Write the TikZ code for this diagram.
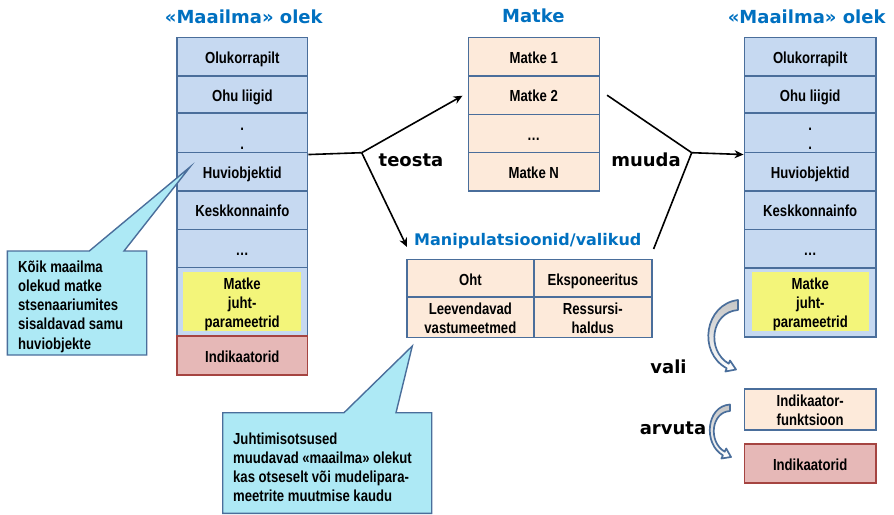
\documentclass[tikz,border=0pt]{standalone}
\usepackage{fontspec}
\setmainfont{Liberation Sans}
\newfontfamily\cellfont{Liberation Sans}[FakeStretch=0.82]
\newfontfamily\titlefont{DejaVu Sans}
\usetikzlibrary{arrows.meta,calc}
\definecolor{cellblue}{RGB}{198,217,241}
\definecolor{cellborder}{RGB}{74,110,155}
\definecolor{peach}{RGB}{253,234,218}
\definecolor{yel}{RGB}{243,245,122}
\definecolor{pinkfill}{RGB}{230,184,183}
\definecolor{pinkborder}{RGB}{165,68,65}
\definecolor{callfill}{RGB}{173,233,245}
\definecolor{titleblue}{RGB}{0,112,192}
\newcommand{\topfix}{\rule{0pt}{17.5pt}}
\newcommand{\botfix}{\rule[-4pt]{0pt}{4pt}}
\tikzset{
  cellfnt/.style={font=\cellfont\bfseries\fontsize{16}{19}\selectfont},
  cell/.style={cellfnt, draw=cellborder, line width=1.6pt, fill=cellblue, inner sep=0pt, align=center},
  mcell/.style={cell, fill=peach},
  ycell/.style={cellfnt, fill=yel, inner sep=0pt, align=center},
  icell/.style={cell, fill=pinkfill, draw=pinkborder},
  ttl/.style={font=\titlefont\bfseries\fontsize{18}{22}\selectfont, text=titleblue, inner sep=0pt},
  lbl/.style={font=\titlefont\bfseries\fontsize{18}{22}\selectfont, text=black, inner sep=0pt},
  conn/.style={line width=1.6pt, black},
  arr/.style={conn, -{Stealth[length=9pt,width=8pt]}},
  callout/.style={draw=cellborder, line width=1.4pt, fill=callfill},
  calltext/.style={font=\cellfont\bfseries\fontsize{16}{19.3}\selectfont, align=left, inner sep=0pt},
  blockarrow/.style={draw=cellborder, line width=1.7pt, top color=gray!45, bottom color=white, line join=round}
}
\begin{document}
\begin{tikzpicture}[x=1pt,y=-1pt]
\useasboundingbox (0,0) rectangle (894,514);

% titles
\node[ttl] (tl) at (243.8,17) {«Maailma» olek};
\node[ttl] (tm) at (533.3,16) {Matke};
\node[ttl] (tr) at (806.7,17) {«Maailma» olek};
\node[ttl, font=\titlefont\bfseries\fontsize{16}{20}\selectfont] (tmp) at (527.8,241) {Manipulatsioonid/valikud};

% left column
\begin{scope}[every node/.append style={minimum width=130.7pt, minimum height=38.3pt}]
\node[cell] (l1) at (242.3,56.7) {\topfix Olukorrapilt\botfix};
\node[cell] (l2) at (242.3,95.2) {\topfix Ohu liigid\botfix};
\node[cell] (l3) at (242.3,133.5) {\topfix.\\.\botfix};
\node[cell] (l4) at (242.3,171.8) {\topfix Huviobjektid\botfix};
\node[cell] (l5) at (242.3,210.2) {\topfix Keskkonnainfo\botfix};
\node[cell] (l6) at (242.3,248.5) {\topfix …\botfix};
\node[cell, minimum height=68.3pt] (l7) at (242.3,301.8) {};
\node[icell, minimum height=39pt] (l8) at (242.3,355.5) {\topfix Indikaatorid\botfix};
\end{scope}
\node[ycell, minimum width=117.7pt, minimum height=55.3pt] (ly) at (242.2,301.7) {\topfix Matke\\juht-\\parameetrid\botfix};

% right column
\begin{scope}[every node/.append style={minimum width=131.7pt, minimum height=38.3pt}]
\node[cell] (r1) at (810.2,56.7) {\topfix Olukorrapilt\botfix};
\node[cell] (r2) at (810.2,95.2) {\topfix Ohu liigid\botfix};
\node[cell] (r3) at (810.2,133.5) {\topfix.\\.\botfix};
\node[cell] (r4) at (810.2,171.8) {\topfix Huviobjektid\botfix};
\node[cell] (r5) at (810.2,210.2) {\topfix Keskkonnainfo\botfix};
\node[cell] (r6) at (810.2,248.5) {\topfix …\botfix};
\node[cell, minimum height=69pt] (r7) at (810.2,302.2) {};
\end{scope}
\node[ycell, minimum width=117.3pt, minimum height=55.3pt] (ry) at (810.3,301.7) {\topfix Matke\\juht-\\parameetrid\botfix};

% Matke column
\begin{scope}[every node/.append style={minimum width=131pt, minimum height=38.3pt}]
\node[mcell] (m1) at (533.8,56.7) {\topfix Matke 1\botfix};
\node[mcell] (m2) at (533.8,95.2) {\topfix Matke 2\botfix};
\node[mcell] (m3) at (533.8,133.5) {\topfix …\botfix};
\node[mcell] (m4) at (533.8,171.8) {\topfix Matke N\botfix};
\end{scope}

% manipulation table
\node[mcell, minimum width=127.3pt, minimum height=39pt] (t1) at (470.35,278.8) {\topfix Oht\botfix};
\node[mcell, minimum width=117.7pt, minimum height=39pt] (t2) at (592.85,278.8) {\topfix Eksponeeritus\botfix};
\node[mcell, minimum width=127.3pt, minimum height=37.7pt] (t3) at (470.35,317.15) {\topfix Leevendavad\\vastumeetmed\botfix};
\node[mcell, minimum width=117.7pt, minimum height=37.7pt] (t4) at (592.85,317.15) {\topfix Ressursi-\\haldus\botfix};

% indicator boxes
\node[mcell, minimum width=131.7pt, minimum height=39pt] (if) at (810.2,409.5) {\topfix Indikaator-\\funktsioon\botfix};
\node[icell, minimum width=131.7pt, minimum height=38.7pt] (ind) at (810.2,463.35) {\topfix Indikaatorid\botfix};

% connectors
\coordinate (s1) at (361.7,152.7);
\coordinate (s2) at (691.7,152.7);
\draw[conn] (l3.south east) -- (s1);
\draw[arr] (s1) -- ($(m2.west)+(-5,0.5)$);
\draw[arr] (s1) -- ($(tmp.west)+(-7,6)$);
\draw[conn] ($(m2.east)+(7,0)$) -- (s2);
\draw[conn] ($(tmp.east)+(12,8)$) -- (s2);
\draw[arr] (s2) -- (r3.south west);

% labels
\node[lbl] (teosta) at (411,160) {teosta};
\node[lbl] (muuda) at (646,160) {muuda};
\node[lbl] (vali) at (668.5,367) {vali};
\node[lbl] (arvuta) at (673,428) {arvuta};

% curved block arrows
\path[blockarrow] (738,300) .. controls (705,304) and (697,352) .. (726.7,368.3)
  -- (725.4,371.5) -- (736,369.5) -- (730,360.5) -- (728.7,363.7)
  .. controls (706,350) and (711,312) .. (738,310) -- cycle;
\path[blockarrow] (730,404.5) .. controls (706,406) and (703,444) .. (722.9,455.3)
  -- (721.4,458.5) -- (731,457) -- (726.2,448.5) -- (724.7,451.7)
  .. controls (708,442) and (711,412) .. (730,411) -- cycle;

% callouts
\path[callout] (7.3,251) -- (89.3,251) -- (190,167) -- (124,251) -- (146.7,251)
  -- (146.7,355) -- (7.3,355) -- cycle;
\node[calltext, anchor=west] (c1) at (18,306.5) {Kõik maailma\\olekud matke\\stsenaariumites\\sisaldavad samu\\huviobjekte};
\path[callout] (222.7,412.7) -- (344,412.7) -- (412.3,346) -- (396,412.7) -- (431.7,412.7)
  -- (431.7,513.3) -- (222.7,513.3) -- cycle;
\node[calltext, anchor=west, font=\cellfont\bfseries\fontsize{16}{19}\selectfont] (c2) at (233,467) {Juhtimisotsused\\muudavad «maailma» olekut\\kas otseselt või mudelipara-\\meetrite muutmise kaudu};
\end{tikzpicture}
\end{document}
